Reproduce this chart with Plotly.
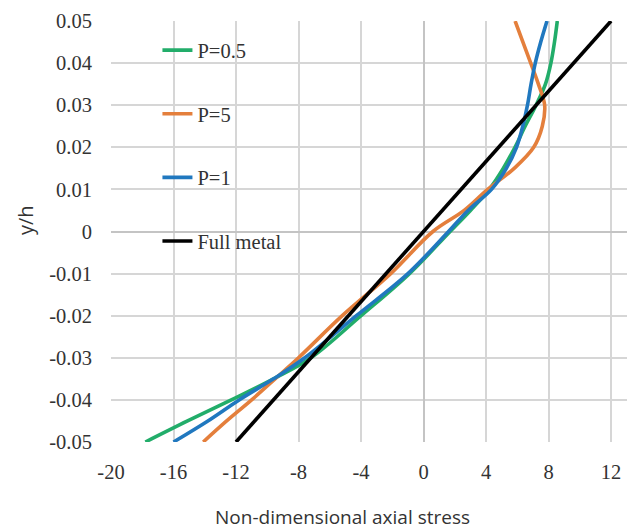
import plotly.graph_objects as go

# ---- data ----
y_pts = [-0.05, -0.045, -0.04, -0.035, -0.03, -0.02, -0.01, 0.0, 0.005, 0.01,
         0.015, 0.02, 0.025, 0.03, 0.035, 0.04, 0.045, 0.05]
p05 = [-17.8, -15.1, -12.3, -9.6, -7.2, -4.0, -0.9, 1.7, 3.0, 4.2,
       5.1, 5.85, 6.5, 7.2, 7.8, 8.15, 8.38, 8.56]
p5 = [-14.1, -12.6, -11.0, -9.5, -8.0, -5.2, -2.1, 0.6, 2.6, 4.1,
      5.8, 7.05, 7.6, 7.75, 7.35, 6.86, 6.36, 5.86]
p1 = [-16.0, -13.8, -11.8, -9.6, -7.6, -4.3, -1.0, 1.6, 2.85, 4.35,
      5.3, 5.95, 6.35, 6.65, 6.88, 7.15, 7.5, 7.9]
metal_y = [-0.05, 0.05]
metal_x = [-12.0, 12.0]

series_names = ["P=0.5", "P=5", "P=1", "Full metal"]
x_ticks = [-20, -16, -12, -8, -4, 0, 4, 8, 12]
x_ticklabels = ["-20", "-16", "-12", "-8", "-4", "0", "4", "8", "12"]
y_ticks = [-0.05, -0.04, -0.03, -0.02, -0.01, 0.0, 0.01, 0.02, 0.03, 0.04, 0.05]
y_ticklabels = ["-0.05", "-0.04", "-0.03", "-0.02", "-0.01", "0",
                "0.01", "0.02", "0.03", "0.04", "0.05"]

colors = ["#22ad6a", "#e47f3c", "#2078bf", "#000000"]

fig = go.Figure()
xs = [p05, p5, p1, metal_x]
ys = [y_pts, y_pts, y_pts, metal_y]
for i, name in enumerate(series_names):
    fig.add_trace(go.Scatter(
        x=xs[i], y=ys[i], mode="lines", name=name,
        line=dict(color=colors[i], width=3.6, shape="spline", smoothing=1.0),
        legendgroup=name,
    ))

serif = "Liberation Serif"
fig.update_layout(
    width=627, height=531,
    margin=dict(l=111, r=0, t=21, b=89),
    paper_bgcolor="white", plot_bgcolor="white",
    font=dict(family=serif, size=20, color="#333333"),
    showlegend=True,
    legend=dict(
        x=0.09, y=0.978, xanchor="left", yanchor="top",
        bgcolor="rgba(255,255,255,0)",
        font=dict(family=serif, size=20.5, color="#333333"),
        tracegroupgap=34,
        itemwidth=30,
    ),
    annotations=[
        dict(text="Non-dimensional axial stress", xref="paper", yref="paper",
             x=0.4477, y=-0.178, xanchor="center", yanchor="middle",
             showarrow=False, font=dict(family="Open Sans", size=19, color="#333333")),
        dict(text="y/h", xref="paper", yref="paper",
             x=-0.1667, y=0.527, xanchor="center", yanchor="middle", textangle=-90,
             showarrow=False, font=dict(family="Open Sans", size=20, color="#333333")),
    ],
)
fig.update_xaxes(
    range=[-20, 13.02], tickmode="array", tickvals=x_ticks, ticktext=x_ticklabels,
    showgrid=True, gridcolor="#d6d6d6", gridwidth=2,
    zeroline=True, zerolinecolor="#c4c4c4", zerolinewidth=2,
    showline=False, ticks="outside", ticklen=11, tickcolor="rgba(255,255,255,0)",
    tickfont_family=serif, tickfont_size=20.5, tickfont_color="#333333",
    fixedrange=True,
)
fig.update_yaxes(
    range=[-0.05, 0.05], tickmode="array", tickvals=y_ticks, ticktext=y_ticklabels,
    showgrid=True, gridcolor="#d6d6d6", gridwidth=2,
    zeroline=True, zerolinecolor="#c4c4c4", zerolinewidth=2,
    showline=False, ticks="outside", ticklen=14, tickcolor="rgba(255,255,255,0)",
    tickfont_family=serif, tickfont_size=20.5, tickfont_color="#333333",
    fixedrange=True,
)

fig.write_html("out.html")
